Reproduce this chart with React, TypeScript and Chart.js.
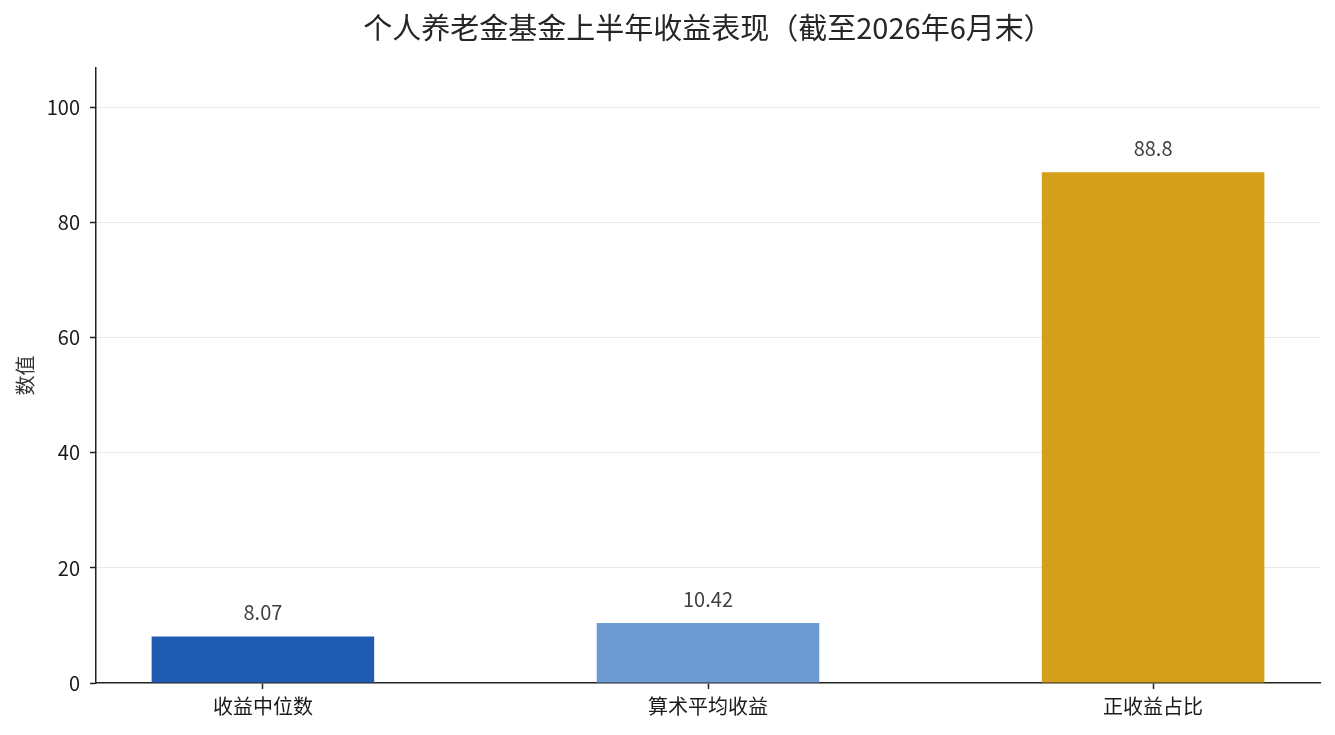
import { useEffect, useRef } from "react";
import { Chart, registerables } from "chart.js";

Chart.register(...registerables);

const categories = ["收益中位数", "算术平均收益", "正收益占比"];
const values = [8.07, 10.42, 88.8];
const barColors = ["#1f5bb0", "#6c9bd2", "#d4a01b"];
const yTicks = [0, 20, 40, 60, 80, 100];
const titleText = "个人养老金基金上半年收益表现（截至2026年6月末）";

const FONT = '"Noto Sans CJK SC", "Noto Sans", sans-serif';

// value labels above bars + title centred over the plot area
const decorations = {
  id: "decorations",
  afterDatasetsDraw(chart: any) {
    const ctx = chart.ctx;
    const meta = chart.getDatasetMeta(0);
    ctx.save();
    ctx.font = `20px ${FONT}`;
    ctx.fillStyle = "#404040";
    ctx.textAlign = "center";
    ctx.textBaseline = "middle";
    meta.data.forEach((bar: any, i: number) => {
      ctx.fillText(String(values[i]), bar.x, bar.y - 24);
    });
    const area = chart.chartArea;
    ctx.font = `29px ${FONT}`;
    ctx.fillStyle = "#262626";
    ctx.fillText(titleText, (area.left + area.right) / 2, 28);
    ctx.restore();
  },
};

const App = () => {
  const canvasRef = useRef<HTMLCanvasElement>(null);

  useEffect(() => {
    if (!canvasRef.current) return;
    const ctx = canvasRef.current.getContext("2d");
    if (!ctx) return;

    const chart = new Chart(ctx, {
      type: "bar",
      data: {
        datasets: [
          {
            label: "数值",
            data: values.map((v, i) => ({ x: i, y: v })),
            backgroundColor: barColors,
            categoryPercentage: 1,
            barPercentage: 0.5,
          },
        ],
      },
      options: {
        animation: false,
        responsive: true,
        maintainAspectRatio: false,
        layout: { padding: { left: 0, right: 15, top: 68, bottom: 0 } },
        plugins: {
          legend: { display: false },
          tooltip: { enabled: false },
          title: { display: false },
        },
        scales: {
          x: {
            type: "linear",
            min: -0.375,
            max: 2.375,
            offset: false,
            afterFit: (s: any) => {
              s.height = 52;
            },
            ticks: {
              stepSize: 1,
              includeBounds: false,
              padding: 5,
              color: "#1a1a1a",
              font: { family: FONT, size: 20 },
              callback: (v: any) => categories[v] ?? "",
            },
            grid: {
              offset: false,
              drawOnChartArea: false,
              drawTicks: true,
              tickLength: 6,
              tickColor: "#222",
              tickWidth: 1.5,
            },
            border: { color: "#222", width: 1.5 },
          },
          y: {
            min: 0,
            max: 106.9,
            z: 1,
            afterFit: (s: any) => {
              s.width = 96;
            },
            afterBuildTicks: (s: any) => {
              s.ticks = yTicks.map((v) => ({ value: v }));
            },
            ticks: {
              padding: 10,
              color: "#1a1a1a",
              font: { family: FONT, size: 20 },
            },
            grid: {
              color: (c: any) => (c.tick && c.tick.value === 0 ? "rgba(0,0,0,0)" : "#e8e8e8"),
              lineWidth: 1,
              tickLength: 6,
              tickColor: "#222",
              tickWidth: 1.5,
            },
            border: { color: "#222", width: 1.5 },
            title: {
              display: true,
              text: "数值",
              color: "#333",
              font: { family: FONT, size: 20 },
              padding: { top: 13, bottom: 0 },
            },
          },
        },
      },
      plugins: [decorations],
    });

    return () => chart.destroy();
  }, []);

  return (
    <div style={{ position: "fixed", left: 0, top: 0, width: 1335, height: 735, background: "#fff" }}>
      <canvas ref={canvasRef}></canvas>
    </div>
  );
};

export default App;
